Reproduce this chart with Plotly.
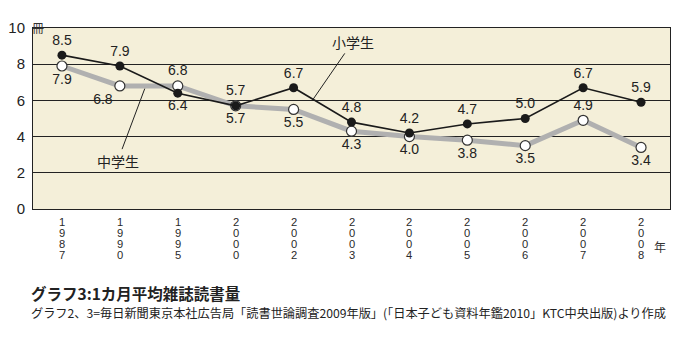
import plotly.graph_objects as go

years = ["1987", "1990", "1995", "2000", "2002", "2003", "2004", "2005", "2006", "2007", "2008"]
elementary = [8.5, 7.9, 6.4, 5.7, 6.7, 4.8, 4.2, 4.7, 5.0, 6.7, 5.9]
junior = [7.9, 6.8, 6.8, 5.7, 5.5, 4.3, 4.0, 3.8, 3.5, 4.9, 3.4]
elem_pos = ["top center", "top center", "bottom center", "bottom center", "top center", "top center",
            "top center", "top center", "top center", "top center", "top center"]
jun_pos = ["bottom center", "bottom left", "top center", "top center", "bottom center", "bottom center",
           "bottom center", "bottom center", "bottom center", "top center", "bottom center"]
y_ticks = [0, 2, 4, 6, 8, 10]

xs = list(range(len(years)))
num_font = dict(family="Liberation Sans, Arial, sans-serif", size=14, color="#222")
jp = "Noto Sans CJK JP, sans-serif"

fig = go.Figure()
fig.add_trace(go.Scatter(
    x=xs, y=junior, mode="lines+markers+text", text=[f"{v:.1f}" for v in junior],
    textposition=jun_pos, textfont=num_font,
    line=dict(color="#b0b0b0", width=5),
    marker=dict(size=10, color="white", line=dict(color="#333", width=1.2)),
    cliponaxis=False, showlegend=False))
fig.add_trace(go.Scatter(
    x=xs, y=elementary, mode="lines+markers+text", text=[f"{v:.1f}" for v in elementary],
    textposition=elem_pos, textfont=num_font,
    line=dict(color="#1a1a1a", width=1.6),
    marker=dict(size=9, color="#1a1a1a"),
    cliponaxis=False, showlegend=False))

annotations = []
for i, yr in enumerate(years):
    for k, ch in enumerate(yr):
        annotations.append(dict(x=i, y=0, xref="x", yref="paper", text=ch, showarrow=False,
                                yanchor="middle", yshift=-(12.5 + k * 11),
                                font=dict(family="Liberation Sans, Arial, sans-serif", size=11.2, color="#2a2a2a")))
annotations += [
    dict(x=10, y=0, xref="x", yref="paper", text="年", showarrow=False, xshift=19, yshift=-48,
         font=dict(family=jp, size=12, color="#333")),
    dict(x=0, y=1, xref="paper", yref="paper", text="冊", showarrow=False, xshift=-3, yshift=11,
         font=dict(family=jp, size=12, color="#333")),
    dict(x=4.33, y=6.03, xref="x", yref="y", text="小学生", showarrow=True, arrowhead=0,
         arrowwidth=1, arrowcolor="#222", ax=40, ay=-58, standoff=0,
         font=dict(family=jp, size=14, color="#222")),
    dict(x=1.43, y=6.65, xref="x", yref="y", text="中学生", showarrow=True, arrowhead=0,
         arrowwidth=1, arrowcolor="#222", ax=-27, ay=72, standoff=0,
         font=dict(family=jp, size=14, color="#222")),
    dict(x=0, y=0, xref="paper", yref="paper", text="<b>グラフ3:1カ月平均雑誌読書量</b>", showarrow=False,
         xanchor="left", yanchor="middle", xshift=-4, yshift=-84,
         font=dict(family=jp, size=15.5, color="#222")),
    dict(x=0, y=0, xref="paper", yref="paper",
         text="グラフ2、3=毎日新聞東京本社広告局「読書世論調査2009年版」(「日本子ども資料年鑑2010」KTC中央出版)より作成",
         showarrow=False, xanchor="left", yanchor="middle", xshift=-4, yshift=-104,
         font=dict(family=jp, size=12.2, color="#222")),
]

fig.update_layout(
    width=678, height=337, margin=dict(l=33, r=8, t=28, b=128),
    paper_bgcolor="white", plot_bgcolor="#f4efd9",
    annotations=annotations,
    xaxis=dict(range=[-0.5, 10.5], showticklabels=False, showgrid=False, zeroline=False,
               showline=True, linecolor="#222", linewidth=1, mirror=True, ticks=""),
    yaxis=dict(range=[0, 10], tickvals=y_ticks, showgrid=True, gridcolor="#222", gridwidth=1,
               zeroline=False, showline=True, linecolor="#222", linewidth=1, mirror=True,
               tickfont=dict(family="Liberation Sans, Arial, sans-serif", size=15, color="#222"),
               ticks="", ticklabelstandoff=4),
)

fig.write_html("out.html")
